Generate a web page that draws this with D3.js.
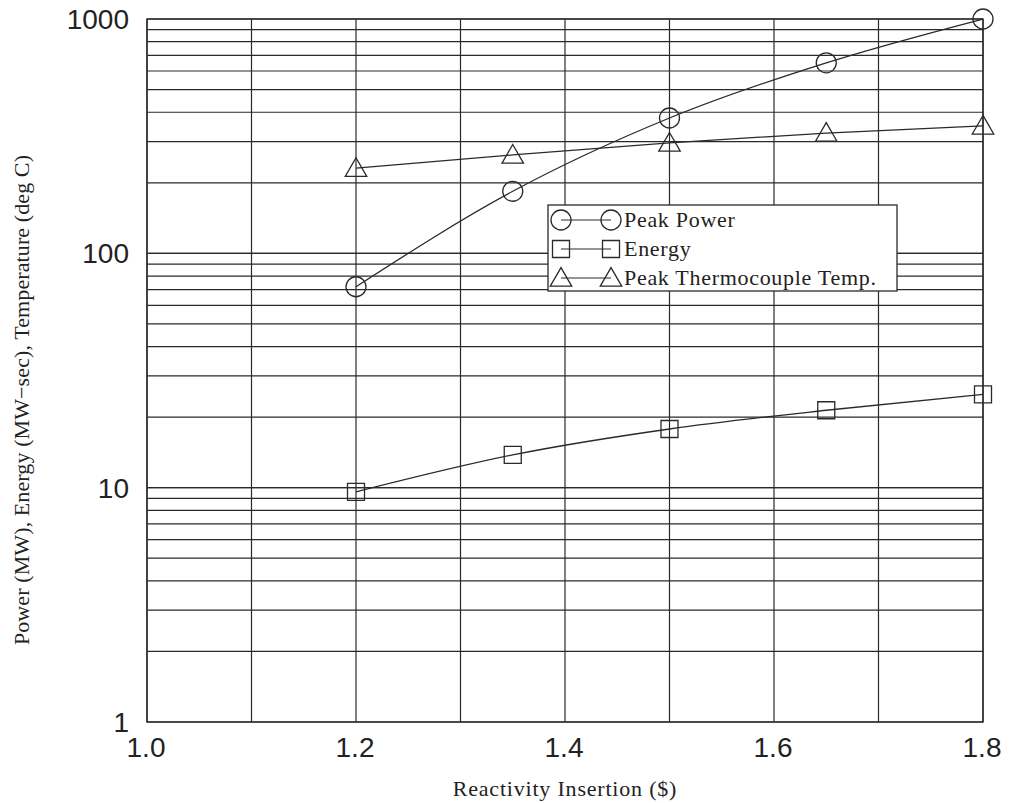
<!DOCTYPE html>
<html><head><meta charset="utf-8">
<script src="https://cdn.jsdelivr.net/npm/d3@7"></script>
<style>body{margin:0;background:#fff}</style>
</head><body>
<svg id="c" width="1010" height="803"></svg>
<script>
const reactivity = [1.2, 1.35, 1.5, 1.65, 1.8];
const peakPower = [72, 184, 378, 650, 1000];
const energy = [9.6, 13.8, 17.8, 21.4, 25];
const peakTemp = [231, 263, 296, 326, 350];
const xTicks = [1.0, 1.2, 1.4, 1.6, 1.8];
const yTicks = [1, 10, 100, 1000];
const seriesNames = ["Peak Power", "Energy", "Peak Thermocouple Temp."];

const svg = d3.select("#c");
const L = 147, R = 983, T = 19, B = 722;
const x = d3.scaleLinear().domain([1.0, 1.8]).range([L, R]);
const y = d3.scaleLog().domain([1, 1000]).range([B, T]);
const ink = "#2a2a2a";

// grid
const g = svg.append("g");
const xGrid = d3.range(1.0, 1.801, 0.1);
g.selectAll("line.vx").data(xGrid).enter().append("line")
  .attr("x1", d => x(d)).attr("x2", d => x(d)).attr("y1", T).attr("y2", B)
  .attr("stroke", ink).attr("stroke-width", 1.2);
const yGrid = [];
[1, 10, 100].forEach(dec => { for (let k = 1; k <= 10; k++) yGrid.push(dec * k); });
g.selectAll("line.hy").data(yGrid).enter().append("line")
  .attr("x1", L).attr("x2", R).attr("y1", d => y(d)).attr("y2", d => y(d))
  .attr("stroke", ink).attr("stroke-width", 1.2);
g.append("rect").attr("x", L).attr("y", T).attr("width", R - L).attr("height", B - T)
  .attr("fill", "none").attr("stroke", ink).attr("stroke-width", 1.4);

// tick labels
const tickFont = "Liberation Sans, Arial, sans-serif";
svg.selectAll("text.xt").data(xTicks).enter().append("text")
  .attr("x", d => x(d) - 1).attr("y", 757).attr("text-anchor", "middle")
  .attr("font-family", tickFont).attr("font-size", 28).attr("fill", "#222")
  .text(d => d.toFixed(1));
svg.selectAll("text.yt").data(yTicks).enter().append("text")
  .attr("x", 129).attr("y", d => y(d) + 10).attr("text-anchor", "end")
  .attr("font-family", tickFont).attr("font-size", 28).attr("fill", "#222")
  .text(d => d);

// axis titles
const serif = "Liberation Serif, Times New Roman, serif";
svg.append("text").attr("x", 565).attr("y", 796).attr("text-anchor", "middle")
  .attr("font-family", serif).attr("font-size", 22).attr("letter-spacing", 0.8).attr("fill", "#222")
  .text("Reactivity Insertion ($)");
svg.append("text").attr("transform", "translate(29,400) rotate(-90)").attr("text-anchor", "middle")
  .attr("font-family", serif).attr("font-size", 22).attr("letter-spacing", 0.1).attr("fill", "#222")
  .text("Power (MW), Energy (MW\u2212sec), Temperature (deg C)");

// series
const line = d3.line().x(d => x(d[0])).y(d => y(d[1])).curve(d3.curveMonotoneX);
const sym = [d3.symbolCircle, d3.symbolSquare, d3.symbolTriangle];
const symSize = [314, 289, 200];
const data = [peakPower, energy, peakTemp];
data.forEach((vals, i) => {
  const pts = reactivity.map((r, j) => [r, vals[j]]);
  svg.append("path").attr("d", line(pts)).attr("fill", "none").attr("stroke", ink).attr("stroke-width", 1.3);
  svg.selectAll(null).data(pts).enter().append("path")
    .attr("d", d3.symbol().type(sym[i]).size(symSize[i]))
    .attr("transform", d => `translate(${x(d[0])},${y(d[1]) + (i === 2 ? 2 : 0)})`)
    .attr("fill", "none").attr("stroke", ink).attr("stroke-width", 1.3);
});

// legend
const lg = svg.append("g");
lg.append("rect").attr("x", 548).attr("y", 205).attr("width", 349).attr("height", 86)
  .attr("fill", "#fff").attr("stroke", ink).attr("stroke-width", 1.3);
const rowY = [220, 249, 278];
seriesNames.forEach((n, i) => {
  lg.append("line").attr("x1", 561).attr("x2", 611).attr("y1", rowY[i]).attr("y2", rowY[i])
    .attr("stroke", ink).attr("stroke-width", 1.2);
  [561, 611].forEach(cx => lg.append("path")
    .attr("d", d3.symbol().type(sym[i]).size(symSize[i]))
    .attr("transform", `translate(${cx},${rowY[i] + (i === 2 ? 2 : 0)})`)
    .attr("fill", "none").attr("stroke", ink).attr("stroke-width", 1.3));
  lg.append("text").attr("x", 624).attr("y", rowY[i] + 7)
    .attr("font-family", serif).attr("font-size", 22).attr("letter-spacing", 0.7).attr("fill", "#222").text(n);
});
</script>
</body></html>
